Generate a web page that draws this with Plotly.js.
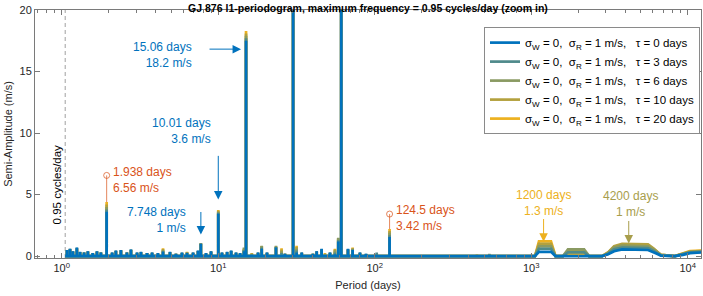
<!DOCTYPE html>
<html><head><meta charset="utf-8">
<script src="https://cdn.plot.ly/plotly-3.0.1.min.js"></script>
<style>html,body{margin:0;padding:0;background:#fff;} #chart{width:703px;height:296px;}</style>
</head><body><div id="chart"></div>
<script>
// ---- data ----
const startPeriod = 1 / 0.95;   // minimum period (maximum frequency 0.95 cycles/day)
const spikePeriods = [1.081,1.13,1.18,1.25,1.31,1.39,1.47,1.58,1.68,1.78,1.938,2.10,2.22,2.39,2.61,2.77,3.03,3.21,3.51,3.78,4.12,4.44,4.92,5.37,5.87,6.32,6.91,7.43,7.748,8.36,9.0,10.01,10.57,11.4,12.1,13.0,13.8,14.6,15.06,16.4,17.97,18.97,20.5,23.4,25.4,26.7,30.1,31.7,34.2,40.3,42.6,45.8,48.1,51.8,55.7,58.5,61.1,67.5,72.3,80.5,88,103,124.5,450,540];
const spikeTau0  = [0.5,0.6,0.4,0.7,0.35,0.3,0.4,0.25,0.4,0.3,3.6,0.3,0.45,0.5,0.3,0.55,0.3,0.35,0.25,0.3,0.25,0.35,0.35,0.2,0.3,0.25,0.3,0.45,1.0,0.25,0.4,3.45,0.3,0.35,0.45,0.3,0.25,0.4,17.5,0.1,0.3,0.6,0.3,0.7,0.1,0.2,88,0.3,0.3,0.2,0.4,0.6,0,0.3,0.15,1.2,212,0.6,0.5,0.3,0.2,0,1.55,0,0];
const spikeTau3  = [0.5,0.6,0.4,0.68,0.34,0.3,0.4,0.25,0.38,0.3,3.8,0.3,0.44,0.48,0.3,0.54,0.3,0.34,0.25,0.3,0.24,0.42,0.34,0.2,0.28,0.28,0.3,0.44,1.02,0.24,0.38,3.52,0.3,0.34,0.44,0.3,0.24,0.5,17.7,0.15,0.3,0.7,0.3,0.75,0.25,0.2,88,0.45,0.3,0.2,0.4,0.58,0.1,0.3,0.3,1.3,212,0.58,0.55,0.3,0.2,0.3,1.7,0.05,0.15];
const spikeTau6  = [0.48,0.58,0.38,0.66,0.33,0.3,0.38,0.25,0.37,0.3,4.0,0.28,0.43,0.47,0.3,0.52,0.28,0.32,0.25,0.28,0.22,0.5,0.32,0.2,0.27,0.3,0.28,0.42,1.03,0.22,0.37,3.6,0.28,0.32,0.42,0.28,0.22,0.7,17.9,0.2,0.28,0.85,0.28,0.85,0.4,0.2,88,0.6,0.28,0.2,0.38,0.55,0.15,0.28,0.45,1.5,212,0.55,0.6,0.28,0.18,0.2,1.9,0.1,0.2];
const spikeTau10 = [0.46,0.56,0.36,0.63,0.32,0.3,0.36,0.25,0.36,0.3,4.2,0.26,0.41,0.46,0.3,0.51,0.26,0.31,0.25,0.26,0.21,0.58,0.31,0.2,0.26,0.33,0.26,0.41,1.04,0.21,0.36,3.68,0.26,0.31,0.41,0.26,0.21,0.6,18.1,0.22,0.26,0.82,0.26,0.8,0.55,0.2,88,0.75,0.26,0.2,0.36,0.52,0.2,0.26,0.55,1.45,212,0.52,0.65,0.26,0.16,0.15,2.05,0.12,0.15];
const spikeTau20 = [0.45,0.55,0.35,0.6,0.3,0.3,0.35,0.25,0.35,0.3,4.4,0.25,0.4,0.45,0.3,0.5,0.25,0.3,0.25,0.25,0.2,0.65,0.3,0.2,0.25,0.35,0.25,0.4,1.05,0.2,0.35,3.75,0.25,0.3,0.4,0.25,0.2,0.55,18.3,0.25,0.25,0.8,0.25,0.75,0.65,0.2,88,0.85,0.25,0.2,0.35,0.5,0.25,0.25,0.6,1.4,212,0.5,0.7,0.25,0.15,0.1,2.2,0.15,0.1];

const longPeriods = [984,1057,1121,1338,1430,1596,1718,2178,2344,2838,3100,3387,3811,4966,5576,6091,6743,8290,9330,10330,12300];
const longTau0  = [0,0,0.35,0.35,0,0,0,0,0,0,0.15,0.4,0.55,0.55,0.5,0.3,0.05,0,0.1,0.25,0.3];
const longTau3  = [0,0,0.6,0.6,0,0,0.3,0.3,0,0,0.2,0.55,0.7,0.7,0.65,0.4,0.05,0,0.15,0.3,0.35];
const longTau6  = [0,0,0.8,0.8,0,0,0.55,0.55,0,0,0.25,0.7,0.85,0.85,0.8,0.5,0.1,0,0.15,0.32,0.38];
const longTau10 = [0,0,1.0,1.0,0,0,0.4,0.4,0,0,0.3,0.8,1.0,1.0,0.95,0.6,0.1,0,0.2,0.38,0.42];
const longTau20 = [0,0,1.2,1.2,0,0,0.2,0.2,0,0,0.3,0.75,0.9,0.9,0.85,0.55,0.1,0,0.25,0.42,0.45];

const tauLabels = ['0','3','6','10','20'];
const seriesColors = ['#0072BD','#4F8A8B','#8A9A62','#B3A13E','#EDB120'];

const markedPeriods = [1.938, 124.5];
const markedAmps = [6.56, 3.42];

const tickVals = [1,10,100,1000,10000];
const tickText = ['10<sup>0</sup>','10<sup>1</sup>','10<sup>2</sup>','10<sup>3</sup>','10<sup>4</sup>'];
const minorTicks = [0.7,0.8,0.9,2,3,4,5,6,7,8,9,20,30,40,50,60,70,80,90,200,300,400,500,600,700,800,900,2000,3000,4000,5000,6000,7000,8000,9000];

// ---- build traces ----
const spikeSets = [spikeTau0, spikeTau3, spikeTau6, spikeTau10, spikeTau20];
const longSets = [longTau0, longTau3, longTau6, longTau10, longTau20];

function seriesXY(spk, lng) {
  const x = [startPeriod], y = [0];
  spikePeriods.forEach((p, i) => { x.push(p, p, p); y.push(0, spk[i], 0); });
  longPeriods.forEach((p, i) => { x.push(p); y.push(lng[i]); });
  return {x, y};
}

const traces = [];
markedPeriods.forEach((p, i) => {
  traces.push({x:[p,p], y:[0, markedAmps[i]], mode:'lines+markers', type:'scatter',
    line:{color:'#D95319', width:0.7}, marker:{symbol:'circle-open', size:[0,6], color:'#D95319', line:{width:1}},
    showlegend:false, hoverinfo:'skip'});
});
for (let k = 4; k >= 0; k--) {
  const d = seriesXY(spikeSets[k], longSets[k]);
  traces.push({x:d.x, y:d.y, type:'scatter', mode:'lines',
    line:{color:seriesColors[k], width:2.7},
    name:'\u03C3<sub>W</sub> = 0,\u00A0\u00A0\u03C3<sub>R</sub> = 1 m/s,\u00A0\u00A0\u00A0\u03C4 = ' + tauLabels[k] + ' days',
    hoverinfo:'skip'});
}

const L = Math.log10;
const blue = '#0072BD', orange = '#D95319', yellow = '#EDB120', olive = '#A89E4C';
function txt(x, y, text, color, xanchor, align) {
  return {x:x, y:y, xref:'x', yref:'y', text:text, showarrow:false, xanchor:xanchor, yanchor:'middle', align:align,
    font:{size:12, color:color}};
}
function arr(x, y, ax, ay, color) {
  return {x:x, y:y, ax:ax, ay:ay, xref:'x', yref:'y', axref:'x', ayref:'y', text:'', showarrow:true,
    arrowhead:2, arrowsize:1.7, arrowwidth:1, arrowcolor:color};
}
const annotations = [
  txt(0.845, 16.38, '15.06 days<br>18.2 m/s', blue, 'right', 'right'),
  arr(1.146, 16.82, 0.935, 16.82, blue),
  txt(0.967, 10.14, '10.01 days<br>3.6 m/s', blue, 'right', 'right'),
  arr(L(10.01), 4.61, L(10.01), 8.27, blue),
  txt(0.315, 6.19, '1.938 days<br>6.56 m/s', orange, 'left', 'left'),
  txt(0.807, 2.90, '7.748 days<br>1 m/s', blue, 'right', 'right'),
  arr(L(7.748), 1.75, L(7.748), 3.71, blue),
  txt(2.123, 3.14, '124.5 days<br>3.42 m/s', orange, 'left', 'left'),
  txt(L(1200), 4.32, '1200 days<br>1.3 m/s', yellow, 'center', 'center'),
  arr(L(1200), 1.18, L(1200), 3.14, yellow),
  txt(3.635, 4.20, '4200 days<br>1 m/s', olive, 'center', 'center'),
  arr(L(4200), 1.02, L(4200), 2.98, olive),
  {x:-0.030, y:5.83, xref:'x', yref:'y', text:'0.95 cycles/day', showarrow:false, textangle:-90,
    xanchor:'center', yanchor:'middle', font:{size:11.5, color:'#000'}}
];

const axisColor = '#7a7a7a';
const layout = {
  width:703, height:296,
  margin:{l:35, r:2, t:10, b:38},
  paper_bgcolor:'#fff', plot_bgcolor:'#fff',
  font:{family:'"Liberation Sans", Arial, Helvetica, sans-serif', size:11, color:'#262626'},
  title:{text:'<b>GJ 876 l1-periodogram, maximum frequency = 0.95 cycles/day (zoom in)</b>',
    font:{size:10.5, color:'#000'}, x:0.5, xref:'paper', xanchor:'center', y:1 - 8/296, yref:'container', yanchor:'middle'},
  xaxis:{type:'log', range:[-0.1706, 4.085], tickvals:tickVals, ticktext:tickText,
    ticks:'inside', ticklen:5, tickcolor:axisColor, showline:true, linecolor:axisColor, linewidth:1,
    mirror:'ticks', showgrid:false, zeroline:false,
    minor:{tickvals:minorTicks, ticks:'inside', ticklen:3, tickcolor:axisColor, showgrid:false},
    title:{text:'Period (days)', standoff:8, font:{size:11, color:'#262626'}}},
  yaxis:{range:[-0.15, 20], tickvals:[0,5,10,15,20], ticks:'inside', ticklen:5, tickcolor:axisColor,
    showline:true, linecolor:axisColor, linewidth:1, mirror:'ticks', showgrid:false, zeroline:false,
    title:{text:'Semi-Amplitude (m/s)', standoff:4, font:{size:11, color:'#262626'}}},
  shapes:[{type:'line', xref:'x', yref:'paper', x0:startPeriod, x1:startPeriod, y0:0, y1:1,
    line:{color:'#a0a0a0', width:1, dash:'4px,3px'}, layer:'below'}],
  annotations:annotations,
  showlegend:true,
  legend:{x:0.9985, y:0.931, xanchor:'right', yanchor:'top', bgcolor:'#fff', bordercolor:'#8a8a8a', borderwidth:1,
    font:{size:11.5, color:'#000'}, traceorder:'reversed', itemwidth:30}
};

Plotly.newPlot('chart', traces, layout, {displayModeBar:false, staticPlot:true});
</script>
</body></html>
